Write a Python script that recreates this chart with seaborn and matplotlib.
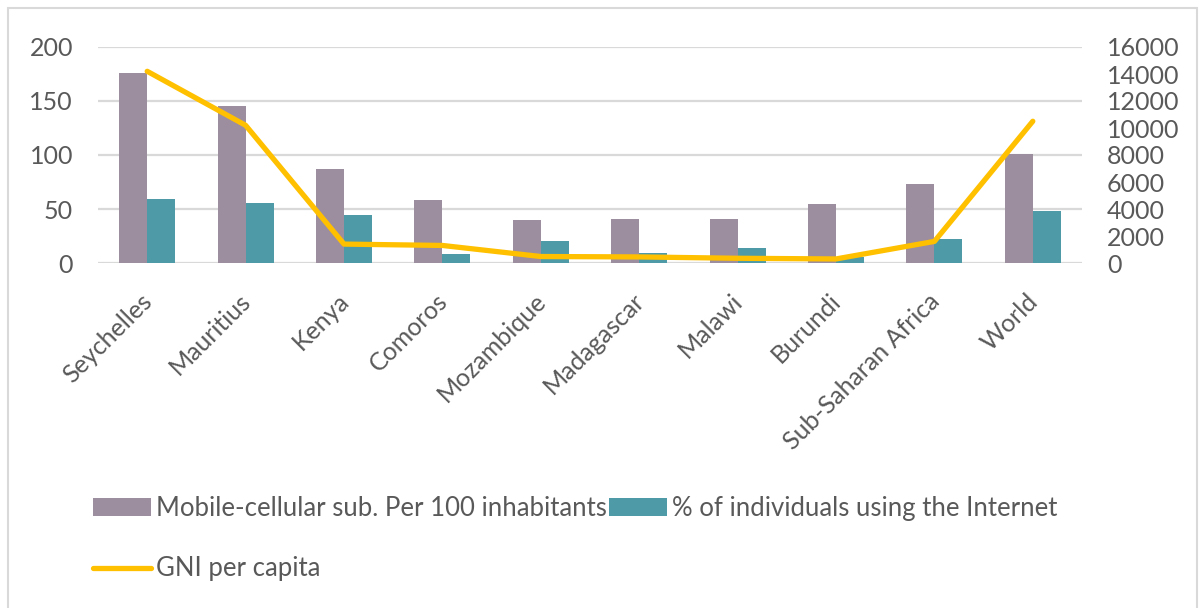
import matplotlib
matplotlib.use("Agg")
import matplotlib.pyplot as plt
from matplotlib.patches import Rectangle, Patch
from matplotlib.lines import Line2D
from matplotlib.transforms import ScaledTranslation
import numpy as np
import pandas as pd
import seaborn as sns

countries = ["Seychelles", "Mauritius", "Kenya", "Comoros", "Mozambique",
             "Madagascar", "Malawi", "Burundi", "Sub-Saharan Africa", "World"]
mobile_per_100 = [176, 145, 87, 58, 40, 41, 41, 55, 73, 101]
internet_pct = [59, 56, 44, 8, 20, 9, 14, 6, 22, 48]
gni_per_capita = [14200, 10200, 1400, 1300, 480, 450, 350, 300, 1600, 10500]

left_ticks = [0, 50, 100, 150, 200]
right_ticks = [0, 2000, 4000, 6000, 8000, 10000, 12000, 14000, 16000]

mobile_label = "Mobile-cellular sub. Per 100 inhabitants"
internet_label = "% of individuals using the Internet"
gni_label = "GNI per capita"

purple = "#9C8D9F"
teal = "#4E9BA7"
gold = "#FFC000"
text_gray = "#595959"
grid_gray = "#D9D9D9"

sns.set_theme(style="white")
plt.rcParams["font.family"] = ["Lato", "DejaVu Sans"]

bars = pd.DataFrame({
    "country": countries * 2,
    "value": mobile_per_100 + internet_pct,
    "series": [mobile_label] * len(countries) + [internet_label] * len(countries),
})
line = pd.DataFrame({"country": countries, "gni": gni_per_capita})

fig = plt.figure(figsize=(12.04, 6.08), dpi=100)
ax = fig.add_axes([98 / 1204, 1 - 263 / 608, 984 / 1204, 216 / 608])

sns.barplot(data=bars, x="country", y="value", hue="series", order=countries,
            hue_order=[mobile_label, internet_label],
            palette=[purple, teal], width=0.57, saturation=1,
            edgecolor="none", linewidth=0, ax=ax, legend=False)
ax.set_ylim(0, 200)
ax.set_xlim(-0.5, len(countries) - 0.5)
ax.set_yticks(left_ticks)
ax.yaxis.grid(True, color=grid_gray, linewidth=1.6)
ax.set_axisbelow(True)
ax.set_xlabel("")
ax.set_ylabel("")
for s in ax.spines.values():
    s.set_visible(False)
ax.tick_params(axis="y", length=0, pad=18, labelsize=18, labelcolor=text_gray)
ax.tick_params(axis="x", length=0, pad=16, labelsize=18, labelcolor=text_gray)
# rotated category labels, nudged left/down so their ends sit under each group
nudge = ScaledTranslation(-0.07, -0.04, fig.dpi_scale_trans)
for lbl in ax.get_xticklabels():
    lbl.set_rotation(45)
    lbl.set_ha("right")
    lbl.set_va("top")
    lbl.set_rotation_mode("anchor")
    lbl.set_transform(lbl.get_transform() + nudge)

ax2 = ax.twinx()
sns.lineplot(data=line, x="country", y="gni", color=gold, linewidth=3.8,
             sort=False, ax=ax2, legend=False)
ax2.set_ylim(0, 16000)
ax2.set_yticks(right_ticks)
ax2.set_ylabel("")
ax2.grid(False)
for s in ax2.spines.values():
    s.set_visible(False)
ax2.tick_params(axis="y", length=0, pad=18, labelsize=18, labelcolor=text_gray)

handles = [Patch(facecolor=purple, edgecolor="none"),
           Line2D([], [], color=gold, linewidth=3.8),
           Patch(facecolor=teal, edgecolor="none")]
labels = [mobile_label, gni_label, internet_label]
leg = fig.legend(handles, labels, ncol=2, loc="upper left",
                 bbox_to_anchor=(93 / 1204, 1 - 496 / 608),
                 frameon=False, fontsize=18.5, handlelength=2.25,
                 handleheight=0.65, handletextpad=0.2, columnspacing=0.08,
                 labelspacing=1.38, borderaxespad=0, borderpad=0)
for t in leg.get_texts():
    t.set_color(text_gray)

fig.patches.append(Rectangle((8 / 1204, -0.05), 1189 / 1204, 1.05 - 8 / 608,
                             transform=fig.transFigure, fill=False,
                             edgecolor=grid_gray, linewidth=1.5))

fig.savefig("out.png", dpi=100, facecolor="white")
